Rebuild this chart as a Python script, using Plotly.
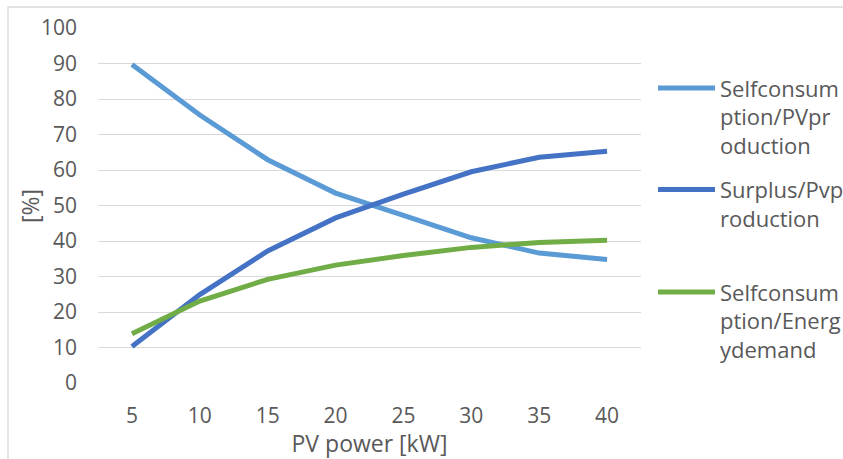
import plotly.graph_objects as go

pv_power = ["5", "10", "15", "20", "25", "30", "35", "40"]
self_pv = [89.7, 75.5, 62.9, 53.5, 47.2, 40.9, 36.6, 34.8]
surplus_pv = [10.3, 24.9, 37.2, 46.5, 53.2, 59.5, 63.6, 65.3]
self_demand = [13.9, 23.1, 29.2, 33.2, 35.9, 38.2, 39.6, 40.2]

names = ["<br><br>Selfconsum<br>ption/PVpr<br>oduction",
         "<br>Surplus/Pvp<br>roduction",
         "<br><br>Selfconsum<br>ption/Energ<br>ydemand"]
colors = ["#5B9BD5", "#4472C4", "#70AD47"]
series = [self_pv, surplus_pv, self_demand]
legends = ["legend", "legend2", "legend3"]

FONT = "Open Sans"
TXT = "#595959"

fig = go.Figure()
for nm, col, ys, lg in zip(names, colors, series, legends):
    fig.add_trace(go.Scatter(x=pv_power, y=ys, mode="lines", name=nm,
                             line=dict(color=col, width=5), legend=lg))

L, R, T, B = 98, 202, 28, 76
W, H = 843, 459
pw, ph = W - L - R, H - T - B

def px(xp):
    return (xp - L) / pw

def py(yp):
    return (H - B - yp) / ph

leg_common = dict(font=dict(family=FONT, size=22, color=TXT), valign="middle",
                  xanchor="left", yanchor="top", bgcolor="rgba(0,0,0,0)",
                  itemwidth=57, tracegroupgap=0)

fig.update_layout(
    width=W, height=H,
    margin=dict(l=L, r=R, t=T, b=B, autoexpand=False),
    paper_bgcolor="white", plot_bgcolor="white",
    font=dict(family=FONT, color=TXT),
    showlegend=True,
    legend=dict(x=px(653), y=py(10), **leg_common),
    legend2=dict(x=px(653), y=py(140), **leg_common),
    legend3=dict(x=px(653), y=py(214), **leg_common),
    xaxis=dict(type="category", range=[-0.5, 7.5], showgrid=False, zeroline=False,
               showline=False, ticks="", ticklabelstandoff=18,
               tickfont=dict(family=FONT, size=21, color=TXT),
               title=dict(text="PV power [kW]", font=dict(family=FONT, size=23, color=TXT),
                          standoff=3)),
    yaxis=dict(range=[0, 100], dtick=10, showgrid=True, gridcolor="#D9D9D9", gridwidth=1.3,
               zeroline=False, showline=False, ticks="",
               tickfont=dict(family=FONT, size=21, color=TXT), ticklabelstandoff=20),
    annotations=[dict(text="[%]", xref="paper", yref="paper", x=px(30), y=py(206),
                      xanchor="center", yanchor="middle", textangle=-90, showarrow=False,
                      font=dict(family=FONT, size=23, color=TXT))],
    shapes=[dict(type="rect", xref="paper", yref="paper",
                 x0=px(8), x1=px(900), y0=py(520), y1=py(7),
                 line=dict(color="#D9D9D9", width=1.3), fillcolor="rgba(0,0,0,0)",
                 layer="below")],
)

fig.write_html("out.html")
